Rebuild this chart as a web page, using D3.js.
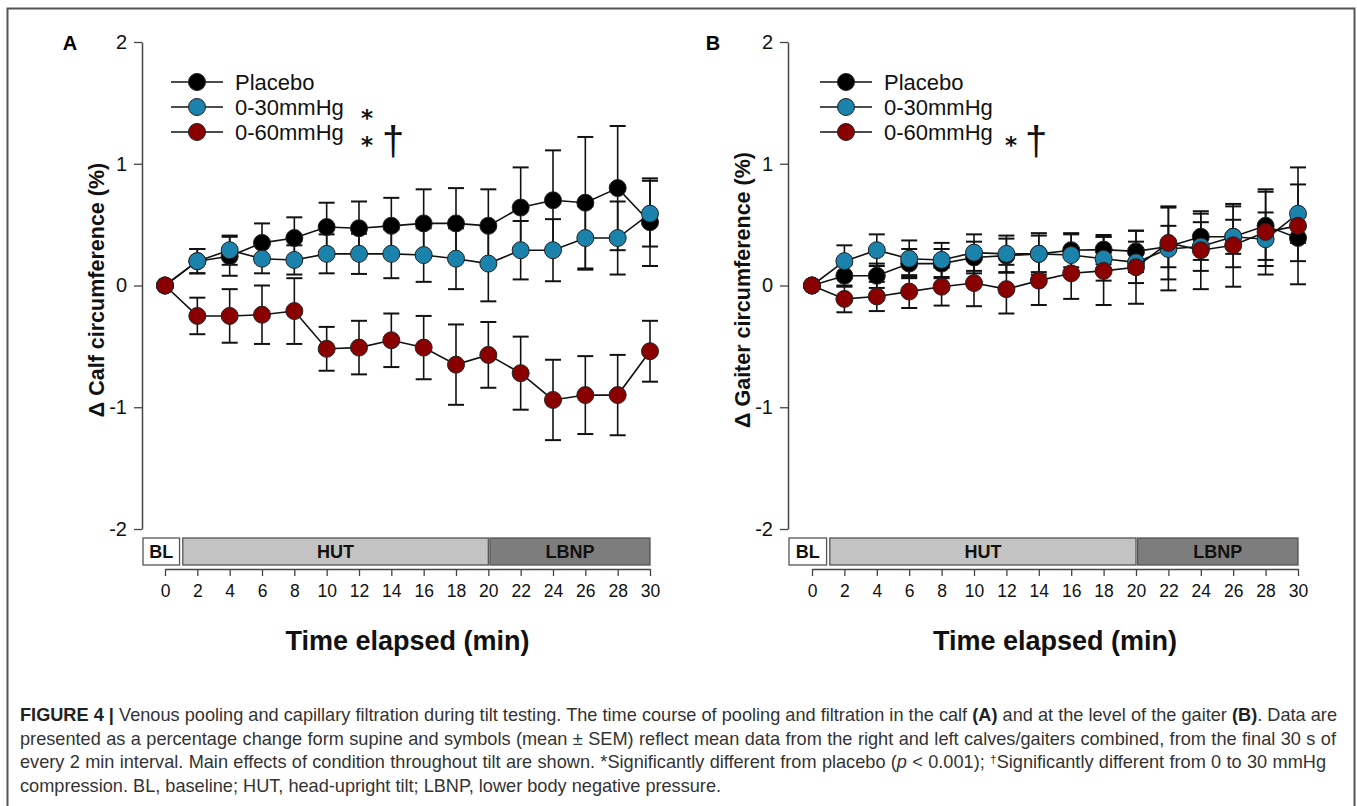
<!DOCTYPE html>
<html><head><meta charset="utf-8">
<script src="https://cdn.jsdelivr.net/npm/d3@7"></script>
<style>body{margin:0;background:#fff}svg{display:block}</style>
</head><body>
<script>
const times = [0,2,4,6,8,10,12,14,16,18,20,22,24,26,28,30];
const xTicks = [0,2,4,6,8,10,12,14,16,18,20,22,24,26,28,30];
const yTicks = [-2,-1,0,1,2];
const seriesNames = ["Placebo","0-30mmHg","0-60mmHg"];
const seriesColors = ["#000000","#1b82ab","#8a0000"];

const A_placebo = [0,0.20,0.24,0.35,0.39,0.48,0.47,0.49,0.51,0.51,0.49,0.64,0.70,0.68,0.80,0.52];
const A_placebo_sem = [0,0.10,0.16,0.16,0.17,0.20,0.22,0.23,0.28,0.29,0.30,0.33,0.41,0.54,0.51,0.36];
const A_30 = [0,0.20,0.29,0.22,0.21,0.26,0.26,0.26,0.25,0.22,0.18,0.29,0.29,0.39,0.39,0.59];
const A_30_sem = [0,0.10,0.12,0.12,0.12,0.16,0.165,0.20,0.22,0.25,0.31,0.24,0.255,0.26,0.30,0.27];
const A_60 = [0,-0.25,-0.25,-0.24,-0.21,-0.52,-0.51,-0.45,-0.51,-0.65,-0.57,-0.72,-0.94,-0.90,-0.90,-0.54];
const A_60_sem = [0,0.15,0.22,0.24,0.27,0.18,0.22,0.22,0.26,0.33,0.27,0.30,0.33,0.32,0.33,0.25];

const B_placebo = [0,0.08,0.08,0.18,0.18,0.23,0.245,0.26,0.29,0.295,0.28,0.32,0.40,0.40,0.49,0.39];
const B_placebo_sem = [0,0.09,0.10,0.12,0.12,0.13,0.14,0.15,0.14,0.12,0.17,0.17,0.19,0.14,0.28,0.19];
const B_30 = [0,0.20,0.29,0.22,0.21,0.27,0.26,0.26,0.25,0.22,0.19,0.30,0.32,0.40,0.38,0.59];
const B_30_sem = [0,0.13,0.13,0.15,0.14,0.15,0.15,0.17,0.17,0.18,0.17,0.34,0.20,0.25,0.22,0.24];
const B_60 = [0,-0.11,-0.09,-0.05,-0.01,0.02,-0.03,0.04,0.10,0.12,0.15,0.35,0.29,0.33,0.44,0.49];
const B_60_sem = [0,0.11,0.12,0.135,0.155,0.19,0.20,0.20,0.21,0.28,0.30,0.30,0.32,0.34,0.35,0.48];

const phases = ["BL","HUT","LBNP"];
const phaseStart = [-1.4, 1.1, 20.1];
const phaseEnd = [0.9, 20.0, 30];
const phaseFill = ["#ffffff","#c3c3c3","#7d7d7d"];

const FONT = "Liberation Sans, Arial, Helvetica, sans-serif";
const W = 1357, H = 806;
const svg = d3.select("body").append("svg").attr("width",W).attr("height",H)
  .attr("font-family", FONT);

// outer frame
svg.append("rect").attr("x",7.5).attr("y",8.5).attr("width",1347).attr("height",820)
  .attr("fill","none").attr("stroke","#555").attr("stroke-width",2);

function panel(cfg){
  const g = svg.append("g").attr("font-family", FONT);
  const x = d3.scaleLinear().domain([0,30]).range([cfg.x0, cfg.x1]);
  const y = d3.scaleLinear().domain([-2,2]).range([529,42]);

  // y axis
  const ya = g.append("g").attr("transform",`translate(${cfg.ax},0)`)
    .call(d3.axisLeft(y).tickValues(yTicks).tickFormat(d => String(d)).tickSize(8).tickSizeOuter(0).tickPadding(7));
  ya.attr("font-family", FONT);
  ya.select(".domain").attr("stroke","#444").attr("stroke-width",1.5);
  ya.selectAll(".tick line").attr("stroke","#444").attr("stroke-width",1.3);
  ya.selectAll(".tick text").attr("font-size",20).attr("fill","#111");

  // panel letter
  g.append("text").attr("x",cfg.letterX).attr("y",50).attr("font-size",20).attr("font-weight","bold")
    .attr("text-anchor","middle").text(cfg.letter);

  // y label
  g.append("text").attr("transform",`translate(${cfg.ylabX},290) rotate(-90)`)
    .attr("text-anchor","middle").attr("font-size",21.5).attr("font-weight","bold").attr("fill","#111")
    .text(cfg.ylab);

  // phase bar
  const pb = g.append("g");
  phases.forEach((p,i)=>{
    const xa = i===0 ? cfg.ax+1 : x(phaseStart[i]);
    const xb = x(phaseEnd[i]);
    pb.append("rect").attr("x",xa).attr("y",538).attr("width",xb-xa).attr("height",27)
      .attr("fill",phaseFill[i]).attr("stroke","#555").attr("stroke-width",1.3);
    pb.append("text").attr("x",(xa+xb)/2).attr("y",558).attr("text-anchor","middle")
      .attr("font-size",18).attr("font-weight","bold").attr("fill","#111").text(p);
  });

  // x axis
  const xa = g.append("g").attr("transform","translate(0,569)")
    .call(d3.axisBottom(x).tickValues(xTicks).tickFormat(d => String(d)).tickSize(7).tickSizeOuter(0).tickPadding(9));
  xa.attr("font-family", FONT);
  xa.select(".domain").attr("stroke","#444").attr("stroke-width",1.3);
  xa.selectAll(".tick line").attr("stroke","#444").attr("stroke-width",1.3);
  xa.selectAll(".tick text").attr("font-size",17.5).attr("fill","#111");

  g.append("text").attr("x",(cfg.x0+cfg.x1)/2).attr("y",650).attr("text-anchor","middle")
    .attr("font-size",27).attr("font-weight","bold").attr("fill","#111").text("Time elapsed (min)");

  // error bars
  cfg.series.forEach((s,si)=>{
    const data = times.map((t,i)=>({t, v:s.v[i], e:s.e[i]}));
    const eg = g.append("g").attr("stroke","#111").attr("stroke-width",1.6);
    data.filter(d=>d.e>0).forEach(d=>{
      const cx = x(d.t);
      eg.append("line").attr("x1",cx).attr("x2",cx).attr("y1",y(d.v+d.e)).attr("y2",y(d.v-d.e));
      [d.v+d.e, d.v-d.e].forEach(val=>{
        eg.append("line").attr("x1",cx-8).attr("x2",cx+8).attr("y1",y(val)).attr("y2",y(val)).attr("stroke-width",2);
      });
    });
  });
  // lines and points
  cfg.series.forEach((s,si)=>{
    const data = times.map((t,i)=>({t, v:s.v[i]}));
    g.append("path").datum(data).attr("fill","none").attr("stroke","#111").attr("stroke-width",1.6)
      .attr("d", d3.line().x(d=>x(d.t)).y(d=>y(d.v)));
    g.append("g").selectAll("circle").data(data).join("circle")
      .attr("cx",d=>x(d.t)).attr("cy",d=>y(d.v)).attr("r",8.5)
      .attr("fill",seriesColors[si]).attr("stroke","#222").attr("stroke-width",1);
  });

  // legend
  const lg = g.append("g");
  seriesNames.forEach((n,i)=>{
    const ly = 82 + i*25;
    lg.append("line").attr("x1",cfg.legX).attr("x2",cfg.legX+52).attr("y1",ly).attr("y2",ly)
      .attr("stroke","#111").attr("stroke-width",1.6);
    lg.append("circle").attr("cx",cfg.legX+26).attr("cy",ly).attr("r",8.5)
      .attr("fill",seriesColors[i]).attr("stroke","#222");
    lg.append("text").attr("x",cfg.legX+64).attr("y",ly+7.5).attr("font-size",22).attr("fill","#111").text(n);
  });
  // significance asterisks
  cfg.stars.forEach(s=>{
    lg.append("text").attr("x",s.x).attr("y",s.y).attr("font-size",23).attr("font-weight","bold")
      .attr("font-family","DejaVu Sans, Liberation Sans, sans-serif")
      .attr("fill","#111").attr("text-anchor","middle").text("*");
  });
  lg.append("text").attr("x",cfg.dagX).attr("y",155).attr("font-size",40).attr("fill","#111")
    .attr("text-anchor","middle").text("\u2020");
}

panel({x0:165,x1:650,ax:142,letter:"A",letterX:70,ylabX:104,ylab:"\u0394 Calf circumference (%)",legX:171,
  series:[{v:A_placebo,e:A_placebo_sem},{v:A_30,e:A_30_sem},{v:A_60,e:A_60_sem}],
  stars:[{x:367,y:126},{x:367,y:153}], dagX:393});
panel({x0:812,x1:1298,ax:788,letter:"B",letterX:713,ylabX:750,ylab:"\u0394 Gaiter circumference (%)",legX:820,
  series:[{v:B_placebo,e:B_placebo_sem},{v:B_30,e:B_30_sem},{v:B_60,e:B_60_sem}],
  stars:[{x:1011,y:153}], dagX:1036});

// caption: justified lines 1-3 (word spacing), natural last line
const F0 = 17;
const cap = svg.append("g").attr("font-family","Liberation Sans Narrow, Liberation Sans, Arial, sans-serif")
  .attr("font-size",F0).attr("fill","#333");
const l1 = cap.append("text").attr("x",20).attr("y",721);
l1.append("tspan").attr("font-weight","bold").attr("fill","#222").text("FIGURE 4 | ");
l1.append("tspan").text("Venous pooling and capillary filtration during tilt testing. The time course of pooling and filtration in the calf ");
l1.append("tspan").attr("font-weight","bold").attr("fill","#222").text("(A)");
l1.append("tspan").text(" and at the level of the gaiter ");
l1.append("tspan").attr("font-weight","bold").attr("fill","#222").text("(B)");
l1.append("tspan").text(". Data are");
const l2 = cap.append("text").attr("x",20).attr("y",745)
  .text("presented as a percentage change form supine and symbols (mean \u00b1 SEM) reflect mean data from the right and left calves/gaiters combined, from the final 30 s of");
const l3 = cap.append("text").attr("x",20).attr("y",768);
l3.append("tspan").text("every 2 min interval. Main effects of condition throughout tilt are shown. *Significantly different from placebo (");
l3.append("tspan").attr("font-style","italic").text("p");
l3.append("tspan").text(" < 0.001); ");
l3.append("tspan").attr("font-size",11).attr("dy",-5).text("\u2020");
l3.append("tspan").attr("dy",5).text("Significantly different from 0 to 30 mmHg");
const l4 = cap.append("text").attr("x",20).attr("y",792)
  .text("compression. BL, baseline; HUT, head-upright tilt; LBNP, lower body negative pressure.");

const n1 = l1.node().getComputedTextLength();
const n4 = l4.node().getComputedTextLength();
const k = Math.min((702 / n4 + 1317 / n1) / 2, 1317 / n1);
cap.attr("font-size", F0 * k);
l3.selectAll("tspan").filter(function(){ return d3.select(this).attr("font-size"); }).attr("font-size", 11 * k);
[[l1,1317],[l2,1316],[l3,1306]].forEach(([t,w])=>{
  const node = t.node();
  const nat = node.getComputedTextLength();
  const spaces = (node.textContent.match(/ /g) || []).length;
  const extra = (w - nat) / spaces;
  t.style("word-spacing", extra + "px");
});
</script>
</body></html>
